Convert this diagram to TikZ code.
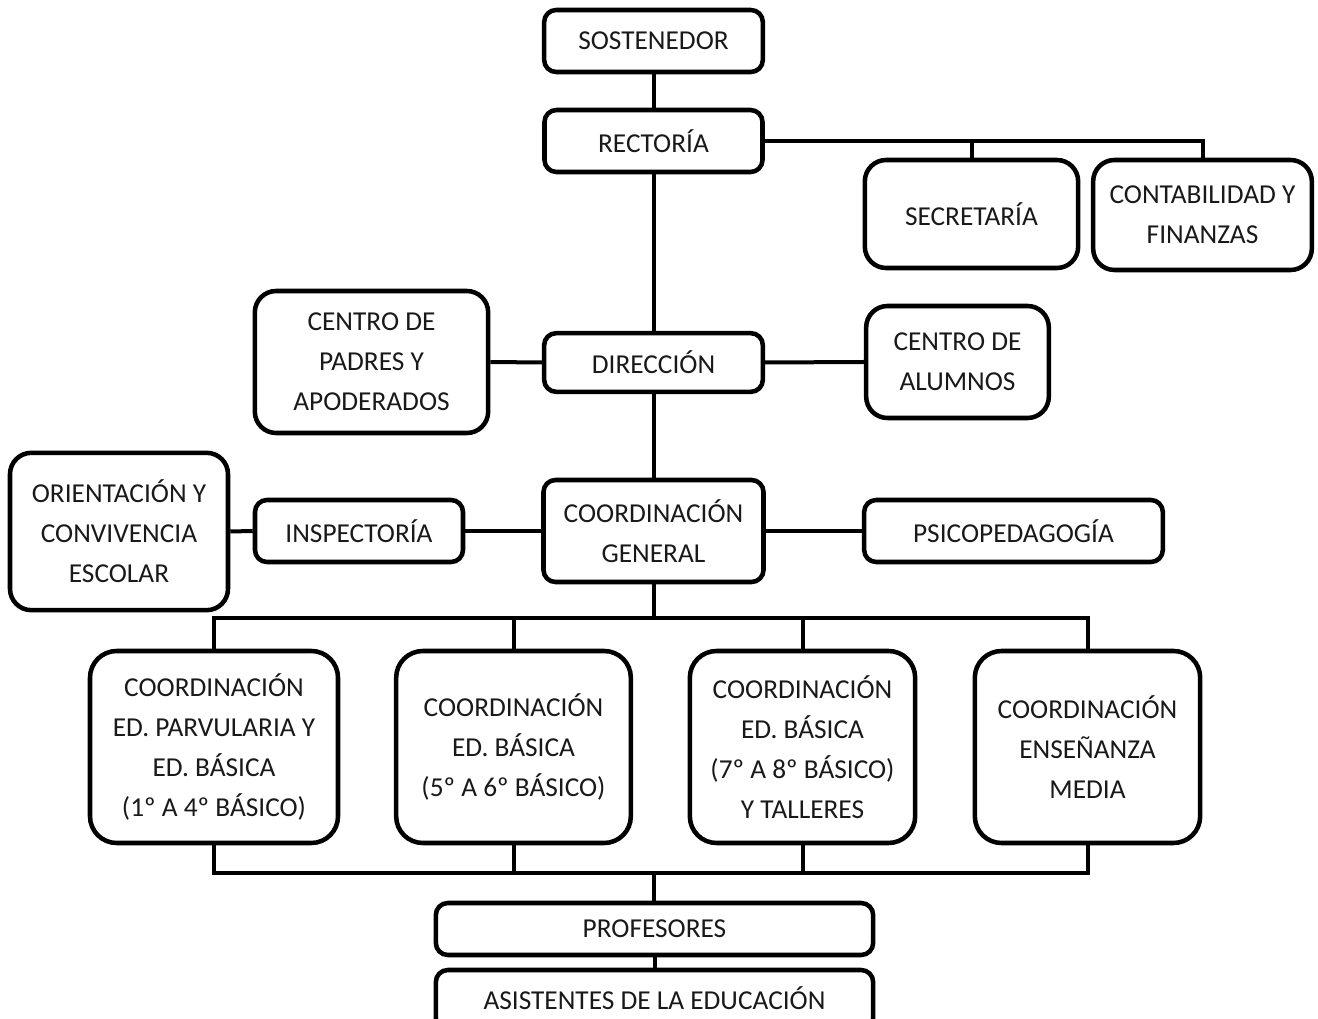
\documentclass[tikz,border=0pt]{standalone}
\usepackage{fontspec}
\setmainfont{Carlito}
\begin{document}
\begin{tikzpicture}[x=0.75pt,y=-0.75pt,
  box/.style={draw=black,line width=3.4pt,fill=white,rounded corners=9pt,
    inner sep=0pt,align=center,font=\fontsize{20.5pt}{30pt}\selectfont,text=black!90},
  bigbox/.style={box,rounded corners=16pt},
  link/.style={line width=3pt,draw=black,line join=miter}]
\useasboundingbox (0,0) rectangle (1318,1019);
\clip (0,0) rectangle (1318,1019);

% top of the hierarchy
\node[box,minimum width=164pt,minimum height=46.5pt] (sost) at (653.5,41) {SOSTENEDOR};
\node[box,minimum width=163.5pt,minimum height=46.5pt] (rect) at (653.5,141) {RECTORÍA};
\node[bigbox,minimum width=160pt,minimum height=81pt] (secr) at (971.5,214) {SECRETARÍA};
\node[bigbox,minimum width=164pt,minimum height=82.5pt] (cont) at (1202.5,215) {CONTABILIDAD Y\\FINANZAS};

% direction level
\node[box,minimum width=164pt,minimum height=44pt] (dir) at (653.5,362.5) {DIRECCIÓN};
\node[bigbox,minimum width=175pt,minimum height=106.5pt] (padres) at (371.5,362) {CENTRO DE\\PADRES Y\\APODERADOS};
\node[bigbox,minimum width=137pt,minimum height=84pt] (alum) at (957.5,362) {CENTRO DE\\ALUMNOS};

% general coordination level
\node[box,minimum width=165pt,minimum height=76.5pt] (cg) at (653.5,531) {COORDINACIÓN\\GENERAL};
\node[box,minimum width=156pt,minimum height=46.5pt] (insp) at (359,531) {INSPECTORÍA};
\node[bigbox,minimum width=163.5pt,minimum height=118pt] (orie) at (119,531.5) {ORIENTACIÓN Y\\CONVIVENCIA\\ESCOLAR};
\node[box,minimum width=224pt,minimum height=46.5pt] (psic) at (1013.5,531) {PSICOPEDAGOGÍA};

% cycle coordinations
\node[bigbox,rounded corners=20pt,minimum width=186pt,minimum height=144pt] (c1) at (214,747) {COORDINACIÓN\\ED. PARVULARIA Y\\ED. BÁSICA\\(1º A 4º BÁSICO)};
\node[bigbox,rounded corners=20pt,minimum width=176pt,minimum height=144pt] (c2) at (513.5,747) {COORDINACIÓN\\ED. BÁSICA\\(5º A 6º BÁSICO)};
\node[bigbox,rounded corners=20pt,minimum width=169pt,minimum height=144pt] (c3) at (802.5,747) {COORDINACIÓN\\ED. BÁSICA\\(7º A 8º BÁSICO)\\Y TALLERES};
\node[bigbox,rounded corners=20pt,minimum width=169pt,minimum height=144pt] (c4) at (1087.5,747) {COORDINACIÓN\\ENSEÑANZA\\MEDIA};

% staff
\node[box,minimum width=328pt,minimum height=39pt] (prof) at (654.5,929) {PROFESORES};
\node[box,minimum width=328pt,minimum height=45pt] (asis) at (654.5,1000) {};
\node[font=\fontsize{20.5pt}{30pt}\selectfont,text=black!90,inner sep=0pt] (asist) at (654.5,998) {ASISTENTES DE LA EDUCACIÓN};

% connectors
\coordinate (topbus) at (653.5,618);
\coordinate (lowbus) at (653.5,873);
\draw[link] (sost.south) -- (rect.north);
\draw[link] (rect.east) -| (cont.north);
\draw[link] (secr.north) -- (secr.north |- rect.east);
\draw[link] (rect.south) -- (dir.north);
\draw[link] (dir.west) -- (padres.east);
\draw[link] (dir.east) -- (alum.west);
\draw[link] (dir.south) -- (cg.north);
\draw[link] (cg.west) -- (insp.east);
\draw[link] (insp.west) -- (orie.east);
\draw[link] (cg.east) -- (psic.west);
\draw[link] (cg.south) -- (topbus);
\draw[link] (c1.north) |- (topbus) -| (c4.north);
\draw[link] (c2.north) -- (c2.north |- topbus);
\draw[link] (c3.north) -- (c3.north |- topbus);
\draw[link] (c1.south) |- (lowbus) -| (c4.south);
\draw[link] (c2.south) -- (c2.south |- lowbus);
\draw[link] (c3.south) -- (c3.south |- lowbus);
\draw[link] (lowbus) -- (lowbus |- prof.north);
\draw[link] (prof.south) -- (prof.south |- asis.north);
\end{tikzpicture}
\end{document}
